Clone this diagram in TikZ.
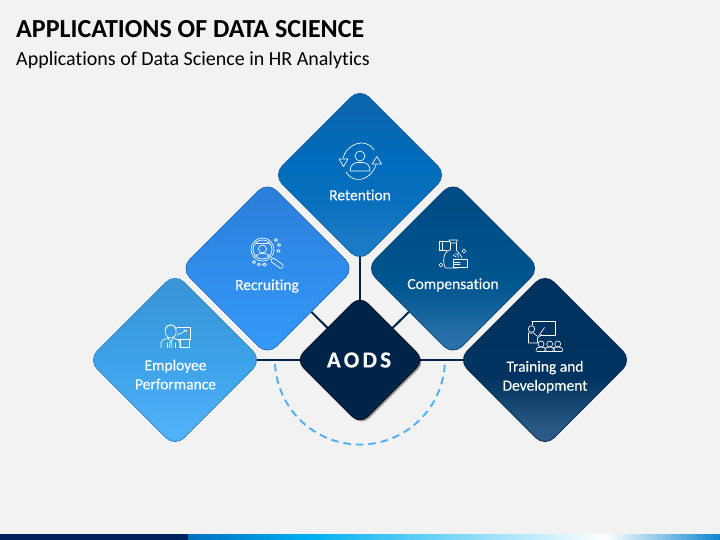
\documentclass[tikz,border=0pt]{standalone}
\usepackage{fontspec}
\setmainfont[Ligatures=NoCommon]{Carlito}
\newfontfamily\aodsfont[LetterSpace=14,FakeBold=0.3]{Carlito}
\newfontfamily\labfont[Ligatures=NoCommon,FakeBold=0.25]{Carlito}
\usetikzlibrary{shadows,calc}
\pgfdeclarelayer{back}
\pgfsetlayers{back,main}
\definecolor{pagebg}{HTML}{F2F2F2}
\definecolor{navy}{HTML}{00234A}
\definecolor{dashblue}{HTML}{4DB0F5}
\definecolor{bara}{HTML}{002060}
\definecolor{barb}{HTML}{0070C0}
\definecolor{barc}{HTML}{00B0F0}
\definecolor{bard}{HTML}{0F85D0}
\definecolor{retedge}{HTML}{0A5CA0}
\definecolor{recedge}{HTML}{2370BE}
\definecolor{empedge}{HTML}{3282C3}
\definecolor{comedge}{HTML}{004173}
\definecolor{traedge}{HTML}{002850}
\definecolor{retA}{HTML}{1B7AC5}\definecolor{retB}{HTML}{0870BE}\definecolor{retC}{HTML}{006CBB}\definecolor{retD}{HTML}{0B66AF}
\definecolor{recA}{HTML}{3498F8}\definecolor{recB}{HTML}{2C80DC}
\definecolor{empA}{HTML}{50B0F8}\definecolor{empB}{HTML}{3CA2E8}\definecolor{empC}{HTML}{3A96D8}
\definecolor{comA}{HTML}{2A70A8}\definecolor{comB}{HTML}{00568F}\definecolor{comC}{HTML}{004C85}
\definecolor{traA}{HTML}{2A5A85}\definecolor{traB}{HTML}{00335F}\definecolor{traC}{HTML}{00305E}
\pgfdeclareverticalshading{retshade}{100bp}{color(0bp)=(retA);color(32bp)=(retA);color(42bp)=(retB);color(55bp)=(retC);color(68bp)=(retD);color(100bp)=(retD)}
\pgfdeclareverticalshading{recshade}{100bp}{color(0bp)=(recA);color(30bp)=(recA);color(70bp)=(recB);color(100bp)=(recB)}
\pgfdeclareverticalshading{empshade}{100bp}{color(0bp)=(empA);color(30bp)=(empA);color(50bp)=(empB);color(70bp)=(empC);color(100bp)=(empC)}
\pgfdeclareverticalshading{comshade}{100bp}{color(0bp)=(comA);color(30bp)=(comA);color(45bp)=(comB);color(70bp)=(comC);color(100bp)=(comC)}
\pgfdeclareverticalshading{trashade}{100bp}{color(0bp)=(traA);color(30bp)=(traA);color(45bp)=(traB);color(100bp)=(traC)}
\tikzset{
  diam/.style={rectangle,rotate=45,rounded corners=13pt,minimum size=123pt,inner sep=0pt,line width=.7pt},
  lab/.style={text=white,font=\labfont\fontsize{15.5}{19}\selectfont,align=center,inner sep=0pt},
  link/.style={draw=navy,line width=2pt},
  icon/.style={draw=white,line width=.65pt,line join=round,line cap=round},
}
\begin{document}
\begin{tikzpicture}[x=1pt,y=-1pt]
\begin{pgfonlayer}{back}
\fill[pagebg] (0,0) rectangle (720,540);
\end{pgfonlayer}
\useasboundingbox (0,0) rectangle (720,540);
% bottom bar
\fill[bara] (0,534) rectangle (188,540);
\shade[left color=barb,right color=barc] (188,534) rectangle (310,540);
\shade[left color=barc,right color=white] (310,534) rectangle (605,540);
\shade[left color=white,right color=bard] (605,534) rectangle (720,540);
% title
\node[anchor=west,inner sep=0pt,font=\fontsize{26}{30}\selectfont\bfseries,text=black] (title) at (16,29) {APPLICATIONS OF DATA SCIENCE};
\node[anchor=west,inner sep=0pt,font=\fontsize{20}{24}\selectfont,text=black] (subtitle) at (16,60.5) {Applications of Data Science in HR Analytics};
% diamonds
\node[diam,draw=retedge,shading=retshade] (ret) at (360,175) {};
\node[diam,draw=recedge,shading=recshade] (rec) at (267.5,268.5) {};
\node[diam,draw=empedge,shading=empshade] (emp) at (175,360) {};
\node[diam,draw=comedge,shading=comshade] (com) at (453,268.5) {};
\node[diam,draw=traedge,shading=trashade] (tra) at (545,360) {};
\node[diam,minimum size=91pt,rounded corners=11pt,fill=navy,draw=black!70!navy,drop shadow={shadow xshift=1.6pt,shadow yshift=-1.6pt,opacity=.35,fill=black}] (aods) at (360,360) {};
% connectors
\begin{pgfonlayer}{back}
\draw[link] (aods.center) -- (ret.center);
\draw[link] (aods.center) -- (rec.center);
\draw[link] (aods.center) -- (com.center);
\draw[link] (aods.center) -- (emp.center);
\draw[link] (aods.center) -- (tra.center);
\end{pgfonlayer}
\draw[draw=dashblue,line width=1.9pt,dash pattern=on 7.5pt off 5pt] ($(aods.center)+(-85,4)$) arc[start angle=177,end angle=3,radius=85];
% labels
\node[lab] (lret) at (360,195) {Retention};
\node[lab] (lrec) at (267,286) {Recruiting};
\node[lab] (lcom) at (453,285) {Compensation};
\node[lab] (lemp) at (175.5,374.5) {Employee\\Performance};
\node[lab] (ltra) at (545,377) {Training and\\Development};
\node[text=white,inner sep=0pt,font=\aodsfont\fontsize{23}{27}\selectfont\bfseries] (laods) at (359,360) {AODS};
% retention icon
\begin{scope}[icon]
\draw (360,156) circle (5);
\draw (350,171) .. controls (350,165) and (354,163) .. (357,162.5) -- (363,162.5) .. controls (367,163) and (370,165) .. (370,171) -- cycle;
\draw (343,158) .. controls (346,145) and (365,136) .. (374,150);
\draw (346,172) .. controls (352,183) and (369,183) .. (376,165);
\draw (339,159) -- (348,159) -- (343.5,166.5) -- cycle;
\draw (372,164) -- (381.5,164) -- (377,156.5) -- cycle;
\end{scope}
% recruiting icon
\begin{scope}[icon]
\draw (262.5,249.5) circle (11.5) circle (9.5);
\draw (262.5,249) circle (4);
\draw (255,257) .. controls (257,252) and (268,252) .. (270,257);
\draw (256,243) -- (269,243);
\draw[rounded corners=1.5pt] (270.4,261.1) -- (273,257.5) -- (284,265.5) -- (281.4,269.1) -- cycle;
\foreach \px/\py in {276/240,279/245,278.5/251,254/262,259/264.5,264.5/264.5}
  \draw (\px,\py) circle[x radius=1.8,y radius=1.5];
\end{scope}
% employee icon
\begin{scope}[icon]
\draw (170.7,331.5) circle[x radius=5.5,y radius=6.5];
\draw (165,329) .. controls (166,324) and (175,323) .. (176.5,329);
\draw (161,347.5) -- (161,343) .. controls (161,340) and (165,339) .. (168,338) -- (170.7,342) -- (173.5,338) .. controls (176,339) and (180,340) .. (180,343) -- (180,347.5);
\draw (170,342) -- (169.5,347.5) (171.5,342) -- (172,347.5);
\draw (167,347.5) -- (167,343) (175,347.5) -- (175,343);
\draw (177,327.5) -- (190,327.5) (190,327.5) -- (190,339) -- (178,339);
\draw (180,339) -- (180,347.5) (189,339) -- (189,347.5) (180,347) -- (189,347);
\draw (177,335) -- (180,333.5) -- (182,333) -- (186,330);
\draw (184,330) -- (186,330) -- (186,332);
\end{scope}
% compensation icon
\begin{scope}[icon]
\draw (447,250) -- (439.5,250) -- (439.5,241) -- (447,241);
\draw (442,241) -- (442,250);
\draw (449,240) -- (457.5,240) -- (456,243) -- (450.5,243) -- cycle;
\draw (450,243) -- (450,250) (456,243) -- (456,250) (447,241.5) -- (450,241.5);
\draw (450,250) .. controls (441,252) and (443.5,268) .. (446,268) -- (458,268);
\draw (456,250) .. controls (458,252) and (461,255) .. (462,258);
\draw (453.5,259) -- (467.5,259) -- (467.5,267.5) -- (453.5,267.5) -- cycle;
\draw (453.5,262) -- (460,262) (453.5,264.5) -- (460,264.5);
\draw (453,255) -- (456,257) (455,254) -- (458,254) -- (458,258);
\draw (464,249) -- (466,251) -- (464,253) -- (462,251) -- cycle;
\draw (441,263) -- (443,265) -- (441,267) -- (439,265) -- cycle;
\end{scope}
% training icon
\begin{scope}[icon]
\draw (532,321.5) -- (555.5,321.5) -- (555.5,335.5) -- (540.5,335.5);
\draw (532,321.5) -- (532,325);
\draw (531.5,329) circle (3.3);
\draw (528.5,333) -- (528.5,343) -- (537.5,343) -- (537.5,338) -- (542,334.5);
\draw (528.5,333) -- (533.5,333) -- (537.5,336.5);
\draw (538.5,336) -- (544.5,327.5);
\foreach \qx in {541,549.7,557.7}{
  \draw (\qx,344) circle (3);
  \draw (\qx-5,351) .. controls (\qx-5,347) and (\qx-2,347) .. (\qx,347) .. controls (\qx+2,347) and (\qx+5,347) .. (\qx+5,351);
}
\draw (537,351.5) -- (562,351.5);
\end{scope}
\end{tikzpicture}
\end{document}
